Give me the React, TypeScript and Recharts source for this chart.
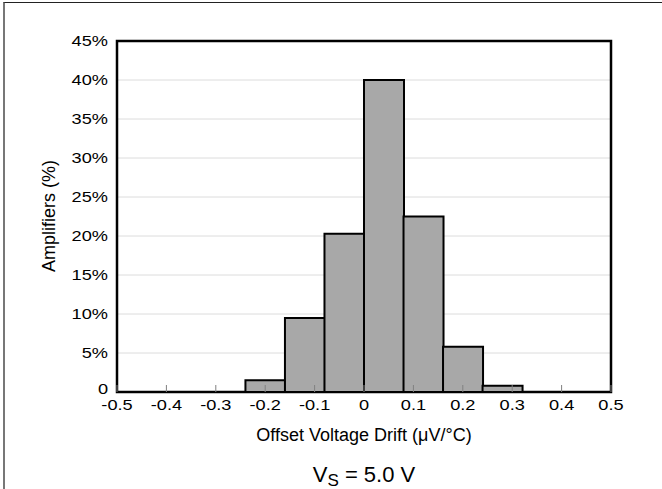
import React from 'react';
import { ComposedChart, Bar, XAxis, YAxis, CartesianGrid, ReferenceArea } from 'recharts';

// histogram bins (centre of each 0.08 µV/°C bin) and share of amplifiers (%)
const binCenters = [-0.2, -0.12, -0.04, 0.04, 0.12, 0.2, 0.28];
const amplifiers = [1.5, 9.5, 20.3, 40, 22.5, 5.8, 0.8];
const xTicks = [-0.5, -0.4, -0.3, -0.2, -0.1, 0, 0.1, 0.2, 0.3, 0.4, 0.5];
const yTicks = [0, 5, 10, 15, 20, 25, 30, 35, 40, 45];

const data = binCenters.map((drift, i) => ({ drift, amplifiers: amplifiers[i] }));

const FONT = '"Liberation Sans", Arial, sans-serif';

// tick text in the source is a bit wide, so stretch it horizontally
const BottomTick = (props: any) => {
  const { x, y, payload } = props;
  return (
    <g>
      <line x1={x} x2={x} y1={y} y2={y - 7} stroke="#808080" strokeWidth={1} />
      <text
        transform={`translate(${x},${y + 18}) scale(1.3,1)`}
        textAnchor="middle"
        fontFamily={FONT}
        fontSize={14}
        fill="#000"
      >
        {String(payload.value)}
      </text>
    </g>
  );
};

const TopTick = (props: any) => {
  const { x, y } = props;
  return <line x1={x} x2={x} y1={y} y2={y + 7} stroke="#808080" strokeWidth={1} />;
};

const LeftTick = (props: any) => {
  const { x, y, payload } = props;
  const v = payload.value;
  return (
    <text
      transform={`translate(${x - 9},${v === 0 ? y + 2 : y + 5}) scale(1.3,1)`}
      textAnchor="end"
      fontFamily={FONT}
      fontSize={14}
      fill="#000"
    >
      {v === 0 ? '0' : `${v}%`}
    </text>
  );
};

const App: React.FC = () => {
  return (
    <div
      style={{
        position: 'fixed',
        left: 0,
        top: 0,
        width: 662,
        height: 489,
        background: '#fff',
      }}
    >
      <div
        style={{
          position: 'absolute',
          left: 3,
          top: 2,
          right: 0,
          bottom: 0,
          borderTop: '1px solid #222',
          borderLeft: '2px solid #777',
        }}
      />
      <ComposedChart
        width={662}
        height={489}
        data={data}
        margin={{ top: 41, right: 51, left: 0, bottom: 67 }}
        barCategoryGap={0}
        barGap={0}
      >
        <CartesianGrid horizontal vertical={false} stroke="#dcdcdc" strokeWidth={1} />
        <XAxis
          xAxisId="top"
          orientation="top"
          type="number"
          dataKey="drift"
          domain={[-0.5, 0.5]}
          ticks={xTicks}
          height={0}
          axisLine={false}
          tickLine={false}
          tickSize={0}
          tickMargin={0}
          tick={<TopTick />}
        />
        <XAxis
          type="number"
          dataKey="drift"
          domain={[-0.5, 0.5]}
          ticks={xTicks}
          height={30}
          axisLine={false}
          tickLine={false}
          tickSize={0}
          tickMargin={0}
          tick={<BottomTick />}
          interval={0}
        />
        <YAxis
          type="number"
          domain={[0, 45]}
          ticks={yTicks}
          width={117}
          axisLine={false}
          tickLine={false}
          tickSize={0}
          tickMargin={0}
          tick={<LeftTick />}
          interval={0}
        />
        <Bar
          dataKey="amplifiers"
          fill="#a8a8a8"
          stroke="#000"
          strokeWidth={2}
          isAnimationActive={false}
        />
        <ReferenceArea
          x1={-0.5}
          x2={0.5}
          y1={0}
          y2={45}
          fill="none"
          fillOpacity={0}
          stroke="#000"
          strokeWidth={2.5}
          ifOverflow="visible"
        />
      </ComposedChart>
      <svg
        width={662}
        height={489}
        style={{ position: 'absolute', left: 0, top: 0, pointerEvents: 'none' }}
        fontFamily={FONT}
        fill="#000"
      >
        <text transform="translate(55,216) rotate(-90)" textAnchor="middle" fontSize={18}>
          Amplifiers (%)
        </text>
        <text x={364} y={441} textAnchor="middle" fontSize={18}>
          Offset Voltage Drift (μV/°C)
        </text>
        <text x={364} y={482} textAnchor="middle" fontSize={22}>
          V
          <tspan fontSize={17} dy={4}>S</tspan>
          <tspan dy={-4}> = 5.0 V</tspan>
        </text>
      </svg>
    </div>
  );
};

export default App;
